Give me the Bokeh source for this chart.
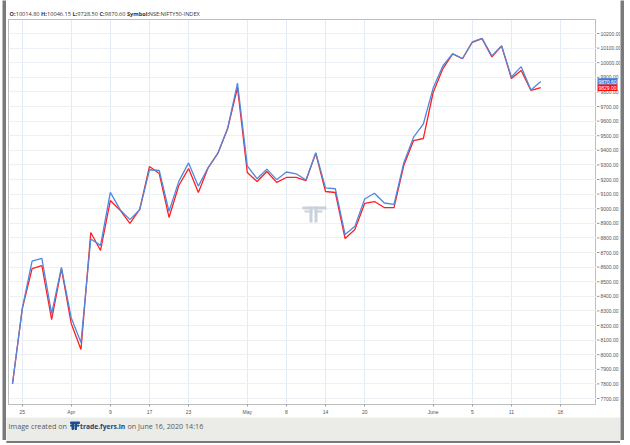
from bokeh.plotting import figure
from bokeh.models import ColumnDataSource, FixedTicker, Range1d, Grid, BoxAnnotation
from bokeh.layouts import column, row
from bokeh.embed import file_html
from bokeh.resources import INLINE
from bokeh.core.properties import value

# ---------------- data ----------------
dates = [
    "2020-03-24", "2020-03-25", "2020-03-26", "2020-03-27", "2020-03-30", "2020-03-31",
    "2020-04-01", "2020-04-03", "2020-04-07", "2020-04-08", "2020-04-09", "2020-04-13",
    "2020-04-15", "2020-04-16", "2020-04-17", "2020-04-20", "2020-04-21", "2020-04-22",
    "2020-04-23", "2020-04-24", "2020-04-27", "2020-04-28", "2020-04-29", "2020-04-30",
    "2020-05-04", "2020-05-05", "2020-05-06", "2020-05-07", "2020-05-08", "2020-05-11",
    "2020-05-12", "2020-05-13", "2020-05-14", "2020-05-15", "2020-05-18", "2020-05-19",
    "2020-05-20", "2020-05-21", "2020-05-22", "2020-05-26", "2020-05-27", "2020-05-28",
    "2020-05-29", "2020-06-01", "2020-06-02", "2020-06-03", "2020-06-04", "2020-06-05",
    "2020-06-08", "2020-06-09", "2020-06-10", "2020-06-11", "2020-06-12", "2020-06-15",
    "2020-06-16",
]
future_dates = ["2020-06-17", "2020-06-18"]

blue_series = [
    7801.05, 8317.85, 8641.45, 8660.25, 8281.10, 8597.75,
    8253.80, 8083.80, 8792.20, 8748.75, 9111.90, 8993.85,
    8925.30, 8992.80, 9266.75, 9261.85, 8981.45, 9187.30,
    9313.90, 9154.40, 9282.30, 9380.90, 9553.35, 9859.90,
    9293.50, 9205.60, 9270.90, 9199.05, 9251.50, 9239.20,
    9196.55, 9383.55, 9142.75, 9136.85, 8823.25, 8879.10,
    9066.55, 9106.25, 9039.25, 9029.05, 9314.95, 9490.10,
    9580.30, 9826.15, 9979.10, 10061.55, 10029.10, 10142.15,
    10167.45, 10046.65, 10116.15, 9902.00, 9972.90, 9813.70,
    9870.60,
]
red_series = [
    7801, 8316, 8590, 8611, 8241, 8590,
    8214, 8036, 8837, 8714, 9056, 8990,
    8899, 8995, 9289, 9241, 8940, 9159,
    9275, 9111, 9280, 9380, 9550, 9830,
    9248, 9186, 9255, 9180, 9214, 9214,
    9193, 9380, 9118, 9111, 8796, 8858,
    9036, 9049, 9008, 9008, 9296, 9467,
    9481, 9796, 9960, 10061, 10027, 10140,
    10165, 10040, 10114, 9892, 9947, 9810,
    9829.00,
]

tick_dates = ["2020-03-25", "2020-04-01", "2020-04-09", "2020-04-17", "2020-04-23",
              "2020-05-04", "2020-05-08", "2020-05-14", "2020-05-20", "2020-06-01",
              "2020-06-05", "2020-06-11", "2020-06-18"]
tick_labels = ["25", "Apr", "9", "17", "23", "May", "8", "14", "20", "June", "5", "11", "18"]
y_ticks = list(range(7700, 10201, 100))

header_texts = ["O:", "10014.80", "H:", "10046.15", "L:", "9728.50", "C:", "9870.60",
                "Symbol:", "NSE:NIFTY50-INDEX"]
header_bold = [True, False, True, False, True, False, True, False, True, False]
caption_texts = ["Image created on", "trade.fyers.in", "on June 16, 2020 14:16"]

# ---------------- build ----------------
all_dates = dates + future_dates
idx_of = {d: i for i, d in enumerate(all_dates)}
xs = list(range(len(dates)))
tick_idx = [idx_of[d] for d in tick_dates]

FONT = "Open Sans"
AX_FONT = "Liberation Sans"
COL_W = 614          # header / chart / caption column width
FRAME_W = 588
FRAME_H = 385
AXIS_W = 24
BORDER = "#7a7a7a"

src = ColumnDataSource(dict(x=xs, blue=blue_series, red=red_series))


def strip(width, height, fill):
    f = figure(width=width, height=height, x_range=Range1d(0, width),
               y_range=Range1d(height, 0), output_backend="svg",
               toolbar_location=None, x_axis_type=None, y_axis_type=None, min_border=0)
    f.outline_line_color = None
    f.grid.visible = False
    f.border_fill_color = fill
    f.background_fill_color = fill
    return f


# approximate glyph advance widths (em) for laying out the header pieces
EM = {'0': .572, '1': .572, '2': .572, '3': .572, '4': .572, '5': .572, '6': .572,
      '7': .572, '8': .572, '9': .572, '.': .267, ':': .267, ' ': .26, '-': .322,
      'O': .778, 'H': .742, 'L': .556, 'C': .632, 'S': .549, 'y': .5, 'm': .861,
      'b': .613, 'o': .602, 'l': .258, 'N': .763, 'E': .556, 'I': .279, 'F': .519,
      'T': .553, 'Y': .524, 'X': .565, 'D': .714}


def text_w(s, fs, bold):
    return sum(EM.get(ch, .58) for ch in s) * fs * (1.06 if bold else 1.0)


# header strip
h = strip(COL_W, 19, "white")
HFS = 5.6
cx = 3.0
for k, (t, b) in enumerate(zip(header_texts, header_bold)):
    h.text(x=[cx], y=[13], text=[t], text_font=value(FONT),
           text_font_size=f"{HFS}px", text_font_style="bold" if b else "normal",
           text_color="#333333", text_baseline="middle", text_align="left")
    cx += text_w(t, HFS, b)
    if not b and k < len(header_texts) - 1:
        cx += text_w(" ", HFS, False)

# main chart (no y axis, x axis below)
p = figure(frame_width=FRAME_W, frame_height=FRAME_H,
           x_range=Range1d(-0.41, 59.7), y_range=Range1d(7659, 10296),
           output_backend="svg", toolbar_location=None, y_axis_type=None,
           min_border_left=2, min_border_top=0, min_border_bottom=10, min_border_right=0)
p.outline_line_color = "#bdbdbd"
p.background_fill_color = "white"
p.border_fill_color = "white"
p.xaxis.ticker = FixedTicker(ticks=tick_idx)
p.xaxis.major_label_overrides = {i: l for i, l in zip(tick_idx, tick_labels)}
ax = p.xaxis[0]
ax.major_label_text_font = AX_FONT
ax.major_label_text_font_size = "5px"
ax.major_label_text_color = "#555555"
ax.axis_line_color = "#bdbdbd"
ax.major_tick_line_color = "#999999"
ax.major_tick_in = 0
ax.major_tick_out = 2
ax.minor_tick_line_color = None
ax.major_label_standoff = 2
p.xgrid.grid_line_color = "#e3ecf6"
p.add_layout(Grid(dimension=1, ticker=FixedTicker(ticks=y_ticks),
                  grid_line_color="#edf1f6"))

# faint watermark logo in the middle of the frame (screen units, frame-relative)
for (l, rr, t, b) in [(294, 318, 198, 195), (301, 304, 198, 182), (306, 309, 198, 182),
                      (296, 304, 194, 192), (306, 314, 194, 192)]:
    p.add_layout(BoxAnnotation(left=l, right=rr, top=t, bottom=b,
                               left_units="screen", right_units="screen",
                               top_units="screen", bottom_units="screen",
                               fill_color="#c9d1db", fill_alpha=1.0, line_color=None,
                               level="underlay"))

p.line(x="x", y="red", source=src, line_color="#ff1f1f", line_width=1.3)
p.line(x="x", y="blue", source=src, line_color="#5089de", line_width=1.3)

# right price scale (shares the y range)
r = figure(frame_width=AXIS_W, frame_height=FRAME_H, x_range=Range1d(0, AXIS_W),
           y_range=p.y_range, output_backend="svg", toolbar_location=None,
           x_axis_type=None, y_axis_type=None,
           min_border_left=0, min_border_top=0, min_border_bottom=10, min_border_right=0)
r.outline_line_color = None
r.grid.visible = False
r.border_fill_color = "white"
r.background_fill_color = "white"
ysrc = ColumnDataSource(dict(y=y_ticks, lab=[f"{v:.2f}" for v in y_ticks]))
r.segment(x0=0, x1=3, y0="y", y1="y", source=ysrc, line_color="#999999", line_width=1)
r.text(x=4, y="y", text="lab", source=ysrc, text_font=value(AX_FONT),
       text_font_size="5px", text_color="#555555", text_baseline="middle")
tags = ColumnDataSource(dict(y=[blue_series[-1], red_series[-1]],
                             lab=[f"{blue_series[-1]:.2f}", f"{red_series[-1]:.2f}"],
                             col=["#3f7ddb", "#ff0d0d"]))
r.rect(x=11, y="y", width=20, height=6.5, height_units="screen", source=tags,
       fill_color="col", line_color=None)
r.text(x=11, y="y", text="lab", source=tags, text_font=value(AX_FONT),
       text_font_size="5px", text_color="white", text_baseline="middle",
       text_align="center")

# caption strip
c = strip(COL_W, 26, "#ebebe7")
c.quad(left=[0], right=[COL_W], top=[24], bottom=[26], color=BORDER)
c.quad(left=[64, 65.5, 64, 68.5, 68.5], right=[73, 67, 67, 70, 72.5],
       top=[4.5, 6, 7.6, 6, 7.6], bottom=[6, 12, 8.6, 12, 8.6], color="#1d4f91")
c.text(x=[2], y=[8.5], text=[caption_texts[0]], text_font=value(FONT),
       text_font_size="7.2px", text_color="#5a5a5a", text_baseline="middle")
c.text(x=[73.5], y=[8.5], text=[caption_texts[1]], text_font=value(FONT),
       text_font_size="6.7px", text_font_style="bold", text_color="#1f3f73",
       text_baseline="middle")
c.text(x=[121], y=[8.5], text=[caption_texts[2]], text_font=value(FONT),
       text_font_size="7.2px", text_color="#5a5a5a", text_baseline="middle")


def bar(width, height, fill):
    f = figure(width=width, height=height, output_backend="svg", toolbar_location=None,
               x_axis_type=None, y_axis_type=None, min_border=0)
    f.outline_line_color = None
    f.grid.visible = False
    f.border_fill_color = fill
    f.background_fill_color = fill
    return f


layout = row(bar(2, 440, "white"), bar(4, 440, BORDER),
             column(h, row(p, r, spacing=0), c, spacing=0),
             bar(4, 440, BORDER), spacing=0)
open("out.html", "w").write(file_html(layout, INLINE))
